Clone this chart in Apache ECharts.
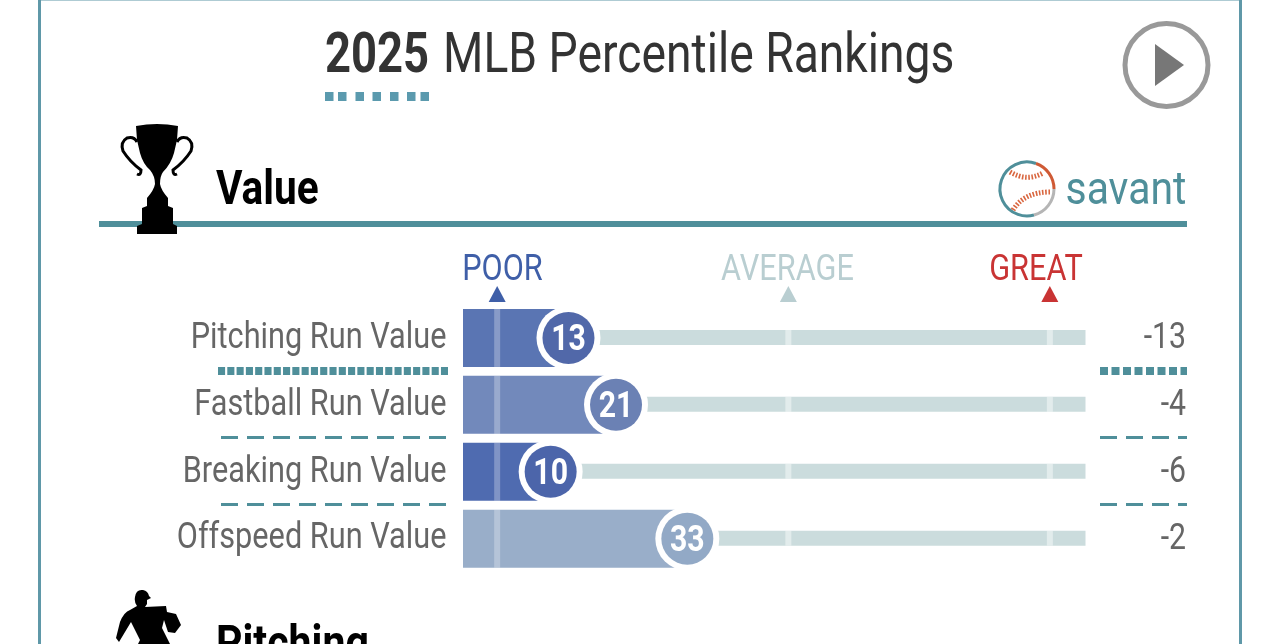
<!DOCTYPE html>
<html><head><meta charset="utf-8">
<style>html,body{margin:0;padding:0;background:#fff}#c{width:1280px;height:644px}</style>
<script src="https://cdn.jsdelivr.net/npm/echarts@6/dist/echarts.min.js"></script></head>
<body><div id="c"></div>
<script>
const metrics = ['Pitching Run Value','Fastball Run Value','Breaking Run Value','Offspeed Run Value'];
const percentiles = [13,21,10,33];
const runValues = ['-13','-4','-6','-2'];
const barColors = ['#5a75b3','#7289bb','#4f6bb0','#99aec9'];
const circleColors = ['#5168a9','#6b81b4','#4c65aa','#92a9c6'];
const benchmarkLabels = ['POOR','AVERAGE','GREAT'];
const benchmarkValues = [1,50,94];
const benchmarkColors = ['#3f5fa8','#b9ced1','#c93434'];

const FONT='Roboto', NARROW=0.853, TEAL='#4f8f9a';
const chart=echarts.init(document.getElementById('c'),null,{renderer:'canvas'});
const AXMIN=-4.75, AXMAX=100;

// baseline-positioned text: y is the alphabetic baseline
function txt(x,y,text,size,weight,color,align,sx){
  return {type:'text',x:x,y:y-0.27*size,scaleX:sx||NARROW,silent:true,
    style:{text:text,fontFamily:FONT,fontSize:size,fontWeight:weight,fill:color,align:align||'left',verticalAlign:'middle'}};
}
function line(x1,x2,y,w,dash,color){
  return {type:'line',silent:true,shape:{x1:x1,y1:y,x2:x2,y2:y},style:{stroke:color||TEAL,lineWidth:w,lineDash:dash}};
}
function path(d,style){ return {type:'path',silent:true,shape:{pathData:d},style:style}; }
const graphics=[
  {type:'rect',silent:true,shape:{x:39.5,y:-1,width:1201,height:700},style:{fill:'none',stroke:'#5f98a8',lineWidth:3}},
  txt(325,73.5,'2025',55,700,'#333','left',0.825),
  txt(443,73.5,'MLB Percentile Rankings',55,400,'#333','left',0.841),
  line(325,431,96.5,9,[8.5,4.5,8.5,9,8.5,8.5,8.5,9,8.5,8.5,8.5,5,8.5,100],'#5b9aae'),
  {type:'circle',silent:true,shape:{cx:1166.5,cy:65,r:41.5},style:{fill:'none',stroke:'#999',lineWidth:5}},
  {type:'polygon',silent:true,shape:{points:[[1155,44],[1184,65],[1155,86]]},style:{fill:'#777'}},
  line(99,1187,224,6,null,TEAL),
  txt(216,205,'Value',48,700,'#000','left',0.845),
  txt(216,660,'Pitching',48,700,'#000','left',0.855),
  txt(1065.5,205,'savant',46,400,'#4f8f9a','left',0.89),
  line(218,448,371,8,[7.1,2.19]), line(1100,1187,371,8,[8,3.5]),
  line(221,448,437.5,3,[17,9]), line(1100,1187,437.5,3,[17,9]),
  line(221,448,504.5,3,[17,9]), line(1100,1187,504.5,3,[17,9])
];
const icons=[
  // trophy
  path('M136 126 Q157 122 178 126 L177 140 L174 153 Q171 164 163 172 Q160 176 160 184 Q161 190 168 198 L168 206 L173 208 L173 224 L177 226 L177 234 L137 234 L137 226 L142 224 L142 208 L147 206 L147 198 Q154 190 155 184 Q155 176 150 170 Q143 164 140 153 L137 140 Z',{fill:'#000'}),
  path('M137 142 Q134 136 127 138 Q120 142 123 151 Q130 162 141 170 Q141 176 137 174',{fill:'none',stroke:'#000',lineWidth:3}),
  path('M177 142 Q180 136 187 138 Q194 142 191 151 Q184 162 173 170 Q173 176 177 174',{fill:'none',stroke:'#000',lineWidth:3}),
  // pitcher
  path('M135 597 Q136 589 143 590 Q148 591 149 596 L151 598 L147 600 L147 604 L145 607 L166 606 L167 612 L176 614 L181 625 L175 633 L168 632 L164 620 L162 628 L170 644 L172 650 L135 650 L140 640 L131 622 L125 632 L119 642 L116 638 L120 622 Q124 612 130 610 L137 606 Q134 602 135 597 Z',{fill:'#000'}),
  // savant ball
  path('M1036 163.5 A27 27 0 1 0 1034 215',{fill:'none',stroke:TEAL,lineWidth:3}),
  path('M1036 163.5 A27 27 0 0 1 1054 189',{fill:'none',stroke:'#cf5a35',lineWidth:3}),
  path('M1054 189 A27 27 0 0 1 1034 215',{fill:'none',stroke:'#b5b5b5',lineWidth:3}),
  path('M1010 172 Q1027 182 1043 173',{fill:'none',stroke:'#d9663f',lineWidth:5,lineDash:[1.6,1.6]}),
  path('M1013 210 Q1024 192 1050 192',{fill:'none',stroke:'#d9663f',lineWidth:5,lineDash:[1.6,1.6]})
];

const option={
  animation:false,
  backgroundColor:'#fff',
  grid:{left:463,width:622.5,top:304.5,height:267.6,containLabel:false},
  xAxis:{type:'value',min:AXMIN,max:AXMAX,show:false},
  yAxis:{type:'category',data:metrics,inverse:true,show:false},
  graphic:{elements:graphics},
  series:[
    {type:'custom',name:'icons',z:6,clip:false,silent:true,data:[[0,0]],
     renderItem:()=>({type:'group',children:icons})},
    {type:'custom',name:'track',z:1,clip:false,data:metrics.map((m,i)=>[AXMAX,i]),
     renderItem:(p,api)=>{
       const c=api.coord([api.value(0),api.value(1)]);
       const s=api.coord([percentiles[p.dataIndex],api.value(1)]);
       return {type:'rect',shape:{x:s[0],y:c[1]-8,width:c[0]-s[0],height:15},style:{fill:'#cbdcdd'}};
     }},
    {type:'custom',name:'percentile bar',z:2,clip:false,data:percentiles.map((v,i)=>[v,i]),
     renderItem:(p,api)=>{
       const c=api.coord([api.value(0),api.value(1)]);
       const s=api.coord([AXMIN,api.value(1)]);
       return {type:'rect',shape:{x:s[0],y:c[1]-29,width:c[0]-s[0],height:58},style:{fill:barColors[p.dataIndex]}};
     }},
    {type:'custom',name:'benchmark stripes',z:3,clip:false,
     data:benchmarkValues.flatMap(b=>metrics.map((m,i)=>[b,i])),
     renderItem:(p,api)=>{
       const c=api.coord([api.value(0),api.value(1)]);
       const inBar=api.value(0)<percentiles[api.value(1)];
       return {type:'rect',shape:{x:c[0]-3,y:c[1]-(inBar?29:8),width:6,height:inBar?58:15},
               style:{fill:inBar?'rgba(255,255,255,0.28)':'rgba(255,255,255,0.45)'}};
     }},
    {type:'custom',name:'percentile circle',z:4,clip:false,data:percentiles.map((v,i)=>[v,i]),
     renderItem:(p,api)=>{
       const c=api.coord([api.value(0),api.value(1)]);
       return {type:'group',children:[
         {type:'circle',shape:{cx:c[0],cy:c[1],r:32},style:{fill:'#fff'}},
         {type:'circle',shape:{cx:c[0],cy:c[1],r:26},style:{fill:circleColors[p.dataIndex]}},
         txt(c[0],c[1]+13,String(api.value(0)),36,700,'#fff','center',0.84)
       ]};
     }},
    {type:'custom',name:'labels',z:5,clip:false,data:metrics.map((m,i)=>[AXMIN,i]),
     renderItem:(p,api)=>{
       const c=api.coord([api.value(0),api.value(1)]);
       return {type:'group',children:[
         txt(446.5,c[1]+10.5,metrics[p.dataIndex],36,400,'#666','right',NARROW),
         txt(1186,c[1]+11,runValues[p.dataIndex],36,400,'#666','right',0.84)
       ]};
     }},
    {type:'custom',name:'benchmarks',z:5,clip:false,data:benchmarkValues.map(b=>[b,0]),
     renderItem:(p,api)=>{
       const c=api.coord([api.value(0),0]);
       const i=p.dataIndex, col=benchmarkColors[i], tx=[502.5,787.5,1036][i];
       return {type:'group',children:[
         {type:'polygon',shape:{points:[[c[0],286],[c[0]+8.5,302],[c[0]-8.5,302]]},style:{fill:col}},
         txt(tx,281,benchmarkLabels[i],36,400,col,'center',NARROW)
       ]};
     }}
  ]
};
chart.setOption(option);
</script></body></html>
